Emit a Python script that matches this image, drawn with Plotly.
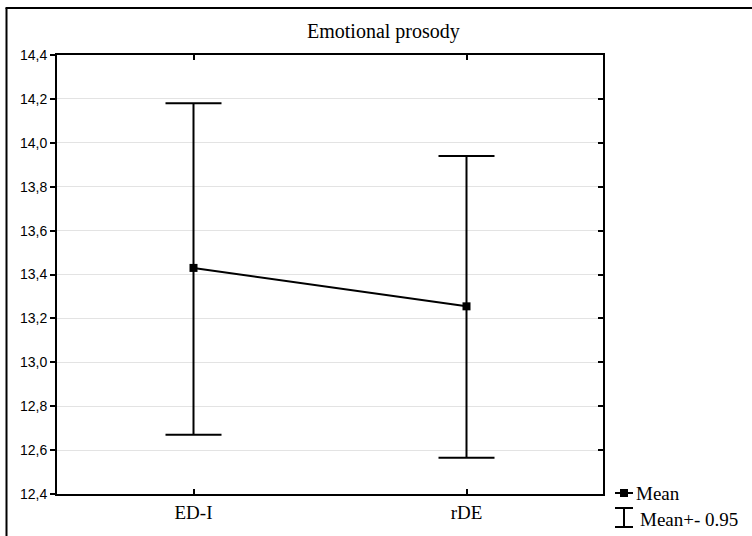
import plotly.graph_objects as go

categories = ["ED-I", "rDE"]
means = [13.43, 13.255]
upper = [14.18, 13.94]
lower = [12.67, 12.565]
y_ticks = [12.4, 12.6, 12.8, 13.0, 13.2, 13.4, 13.6, 13.8, 14.0, 14.2, 14.4]
y_tick_labels = ["12,4", "12,6", "12,8", "13,0", "13,2", "13,4", "13,6", "13,8", "14,0", "14,2", "14,4"]

err_plus = [u - m for u, m in zip(upper, means)]
err_minus = [m - l for m, l in zip(means, lower)]

W, H = 752, 536
L, R, T, B = 57, 149, 55, 42
PW, PH = W - L - R, H - T - B

def px_x(px):
    return (px - L) / PW

def px_y(py):
    return (H - B - py) / PH

serif = "Liberation Serif"
sans = "Liberation Sans"

fig = go.Figure()
fig.add_trace(go.Scatter(
    x=categories, y=means, mode="lines+markers",
    line=dict(color="black", width=2),
    marker=dict(symbol="square", size=8, color="black"),
    error_y=dict(type="data", symmetric=False, array=err_plus, arrayminus=err_minus,
                 color="black", thickness=2, width=28),
    showlegend=False, hoverinfo="skip",
))
# invisible trace for right mirror axis
fig.add_trace(go.Scatter(x=categories, y=means, yaxis="y2", mode="markers",
                         marker=dict(opacity=0), showlegend=False, hoverinfo="skip"))

fig.update_layout(
    width=W, height=H,
    margin=dict(l=L, r=R, t=T, b=B, pad=0),
    paper_bgcolor="white", plot_bgcolor="white",
    showlegend=False,
    xaxis=dict(
        type="category", range=[-0.5, 1.5],
        showline=True, linecolor="black", linewidth=2, mirror="ticks",
        ticks="inside", ticklen=5, tickwidth=2, tickcolor="black",
        showgrid=False, zeroline=False,
        tickfont=dict(family=serif, size=19, color="black"),
    ),
    yaxis=dict(
        range=[12.4, 14.4], tickvals=y_ticks, ticktext=y_tick_labels,
        showline=True, linecolor="black", linewidth=2, mirror=True,
        ticks="outside", ticklen=5, tickwidth=2, tickcolor="black",
        showgrid=True, gridcolor="#e3e3e3", gridwidth=1, zeroline=False,
        tickfont=dict(family=sans, size=14, color="black"),
    ),
    yaxis2=dict(
        range=[12.4, 14.4], tickvals=y_ticks, overlaying="y", side="right",
        showticklabels=False, ticks="inside", ticklen=5, tickwidth=2, tickcolor="black",
        showgrid=False, zeroline=False, showline=False,
    ),
)

shapes = []
# outer frame (left and top lines)
shapes.append(dict(type="line", xref="paper", yref="paper",
                   x0=px_x(6.5), x1=px_x(6.5), y0=px_y(540), y1=px_y(8),
                   line=dict(color="black", width=2)))
shapes.append(dict(type="line", xref="paper", yref="paper",
                   x0=px_x(5.5), x1=px_x(760), y0=px_y(8), y1=px_y(8),
                   line=dict(color="black", width=2)))
# legend: Mean line + square
shapes.append(dict(type="line", xref="paper", yref="paper",
                   x0=px_x(615), x1=px_x(633), y0=px_y(493), y1=px_y(493),
                   line=dict(color="black", width=2)))
shapes.append(dict(type="rect", xref="paper", yref="paper",
                   x0=px_x(620), x1=px_x(628), y0=px_y(497), y1=px_y(489),
                   fillcolor="black", line=dict(color="black", width=0)))
# legend: I-beam
shapes.append(dict(type="line", xref="paper", yref="paper",
                   x0=px_x(624), x1=px_x(624), y0=px_y(508), y1=px_y(527),
                   line=dict(color="black", width=2)))
shapes.append(dict(type="line", xref="paper", yref="paper",
                   x0=px_x(615), x1=px_x(633), y0=px_y(508), y1=px_y(508),
                   line=dict(color="black", width=2)))
shapes.append(dict(type="line", xref="paper", yref="paper",
                   x0=px_x(615), x1=px_x(633), y0=px_y(527), y1=px_y(527),
                   line=dict(color="black", width=2)))
fig.update_layout(shapes=shapes)

annotations = [
    dict(text="Emotional prosody", xref="paper", yref="paper", x=px_x(383), y=px_y(32),
         xanchor="center", yanchor="middle", showarrow=False,
         font=dict(family=serif, size=20, color="black")),
    dict(text="Mean", xref="paper", yref="paper", x=px_x(634), y=px_y(493),
         xanchor="left", yanchor="middle", showarrow=False,
         font=dict(family=serif, size=19, color="black")),
    dict(text="Mean+- 0.95", xref="paper", yref="paper", x=px_x(638), y=px_y(519),
         xanchor="left", yanchor="middle", showarrow=False,
         font=dict(family=serif, size=19, color="black")),
]
fig.update_layout(annotations=annotations)

fig.write_html("out.html")
